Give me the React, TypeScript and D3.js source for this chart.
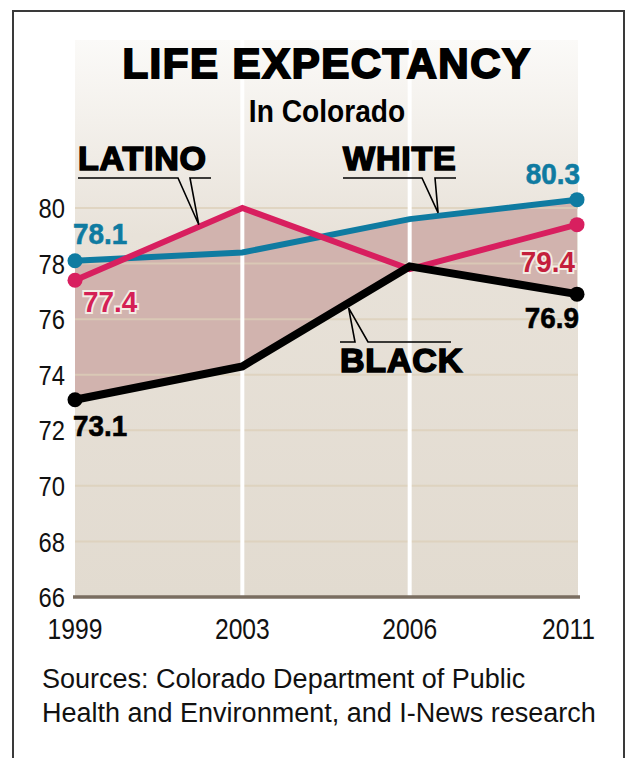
import { useRef, useEffect } from 'react';
import * as d3 from 'd3';

// data
const years = ['1999', '2003', '2006', '2011'];
const white = [78.1, 78.4, 79.6, 80.3];
const latino = [77.4, 80.0, 77.8, 79.4];
const black = [73.1, 74.3, 77.9, 76.9];
const yTicks = [66, 68, 70, 72, 74, 76, 78, 80];

const W = 628;
const H = 758;
const SANS = "'Liberation Sans', Arial, sans-serif";
const NARROW_X = 0.85; // squeeze Liberation Sans to look like a condensed face

const App = () => {
    const ref = useRef<SVGSVGElement>(null);

    useEffect(() => {
        const svg = d3.select(ref.current);
        svg.selectAll('*').remove();

        const x = d3.scalePoint().domain(years).range([75, 577]);
        const y = d3.scaleLinear().domain([66, 80]).range([597, 208]);
        const left = 75, right = 578, top = 40;

        const defs = svg.append('defs');
        const grad = defs.append('linearGradient')
            .attr('id', 'bg')
            .attr('gradientUnits', 'userSpaceOnUse')
            .attr('x1', 0).attr('x2', 0).attr('y1', top).attr('y2', y(66));
        grad.append('stop').attr('offset', '0%').attr('stop-color', '#fbfaf8');
        grad.append('stop').attr('offset', '35%').attr('stop-color', '#e8e2d9');
        grad.append('stop').attr('offset', '100%').attr('stop-color', '#e2dbd0');

        // frame
        svg.append('path')
            .attr('d', `M13,${H} V11 H624 V${H}`)
            .attr('fill', 'none')
            .attr('stroke', '#3a3a3a')
            .attr('stroke-width', 2);

        svg.append('rect')
            .attr('x', left).attr('y', top)
            .attr('width', right - left).attr('height', y(66) - top)
            .attr('fill', 'url(#bg)');

        // shaded band between highest and lowest line
        const all = [white, latino, black];
        const band: { x: number; hi: number; lo: number }[] = [];
        for (let i = 0; i < years.length - 1; i++) {
            const ts = [0];
            for (let a = 0; a < all.length; a++) {
                for (let b = a + 1; b < all.length; b++) {
                    const d0 = all[a][i] - all[b][i];
                    const d1 = all[a][i + 1] - all[b][i + 1];
                    if (d0 * d1 < 0) ts.push(d0 / (d0 - d1));
                }
            }
            if (i === years.length - 2) ts.push(1);
            ts.sort((p, q) => p - q).forEach(t => {
                const vals = all.map(s => s[i] + t * (s[i + 1] - s[i]));
                const x0 = x(years[i])!, x1 = x(years[i + 1])!;
                band.push({ x: x0 + t * (x1 - x0), hi: d3.max(vals)!, lo: d3.min(vals)! });
            });
        }
        svg.append('path')
            .attr('d', d3.area<any>().x(d => d.x).y0(d => y(d.lo)).y1(d => y(d.hi))(band))
            .attr('fill', '#d1b3ae');

        // gridlines
        svg.append('g').selectAll('line')
            .data(yTicks.filter(t => t > 66))
            .enter().append('line')
            .attr('x1', left).attr('x2', right)
            .attr('y1', d => y(d)).attr('y2', d => y(d))
            .attr('stroke', '#dccfb8')
            .attr('stroke-opacity', 0.75)
            .attr('stroke-width', 2);

        // white year separators
        svg.append('g').selectAll('line')
            .data(years.slice(1, -1))
            .enter().append('line')
            .attr('x1', d => x(d)!).attr('x2', d => x(d)!)
            .attr('y1', top).attr('y2', y(66))
            .attr('stroke', '#ffffff')
            .attr('stroke-width', 4);

        // baseline
        svg.append('line')
            .attr('x1', left - 2).attr('x2', right + 2)
            .attr('y1', y(66)).attr('y2', y(66))
            .attr('stroke', '#7a6e61')
            .attr('stroke-width', 3.5);

        // y axis labels
        svg.append('g').selectAll('text')
            .data(yTicks)
            .enter().append('text')
            .attr('transform', d => `translate(65,${y(d)}) scale(${NARROW_X},1)`)
            .attr('dy', '0.36em')
            .attr('text-anchor', 'end')
            .style('font-family', SANS)
            .style('font-size', '28px')
            .attr('fill', '#111')
            .text(d => d);

        // x axis labels (last one kept inside the frame)
        svg.append('g').selectAll('text')
            .data(years)
            .enter().append('text')
            .attr('transform', (d, i) => i === years.length - 1
                ? `translate(${right + 17},639) scale(${NARROW_X},1)`
                : `translate(${x(d)},639) scale(${NARROW_X},1)`)
            .attr('text-anchor', (_, i) => i === years.length - 1 ? 'end' : 'middle')
            .style('font-family', SANS)
            .style('font-size', '29px')
            .attr('fill', '#111')
            .text(d => d);

        // lines
        const seriesList = [
            { vals: white, color: '#0f7ba1', width: 6 },
            { vals: latino, color: '#d81f5f', width: 6 },
            { vals: black, color: '#000000', width: 8 },
        ];
        const line = d3.line<number>().x((_, i) => x(years[i])!).y(d => y(d));
        seriesList.forEach(s => {
            svg.append('path')
                .attr('d', line(s.vals))
                .attr('fill', 'none')
                .attr('stroke', s.color)
                .attr('stroke-width', s.width)
                .attr('stroke-linejoin', 'miter');
            [0, years.length - 1].forEach(i => {
                svg.append('circle')
                    .attr('cx', x(years[i])!)
                    .attr('cy', y(s.vals[i]))
                    .attr('r', 7.5)
                    .attr('fill', s.color);
            });
        });

        // value labels
        const last = years.length - 1;
        const valueLabels = [
            { v: white[0], i: 0, dx: -2, dy: -17, anchor: 'start', color: '#0f7ba1', halo: false },
            { v: latino[0], i: 0, dx: 8, dy: 32, anchor: 'start', color: '#d42055', halo: true },
            { v: black[0], i: 0, dx: -2, dy: 36, anchor: 'start', color: '#000', halo: false },
            { v: white[last], i: last, dx: 3, dy: -16, anchor: 'end', color: '#0f7ba1', halo: false },
            { v: latino[last], i: last, dx: -2, dy: 47, anchor: 'end', color: '#c41f3c', halo: true },
            { v: black[last], i: last, dx: 2, dy: 34, anchor: 'end', color: '#000', halo: false },
        ];
        svg.append('g').selectAll('text')
            .data(valueLabels)
            .enter().append('text')
            .attr('transform', d => `translate(${x(years[d.i])! + d.dx},${y(d.v) + d.dy}) scale(0.93,1)`)
            .attr('text-anchor', d => d.anchor)
            .style('font-family', SANS)
            .style('font-weight', 'bold')
            .style('font-size', '30px')
            .style('paint-order', 'stroke')
            .attr('stroke', d => d.halo ? '#f3ece4' : d.color)
            .attr('stroke-width', d => d.halo ? 4 : 0.6)
            .attr('fill', d => d.color)
            .text(d => d.v.toFixed(1));

        // series name callouts
        const callouts = [
            { name: 'LATINO', s: latino, seg: 0, t: 0.74, tx: 78, ty: 170, rule: 178, rx: [78, 211], gap: [178, 190], tipDy: -2 },
            { name: 'WHITE', s: white, seg: 2, t: 0.17, tx: 343, ty: 170, rule: 178, rx: [343, 456], gap: [422, 435], tipDy: -3 },
            { name: 'BLACK', s: black, seg: 1, t: 0.635, tx: 340, ty: 372, rule: 342, rx: [340, 451], gap: [355, 368], tipDy: 5 },
        ];
        callouts.forEach(c => {
            const x0 = x(years[c.seg])!, x1 = x(years[c.seg + 1])!;
            const tipX = x0 + c.t * (x1 - x0);
            const tipY = y(c.s[c.seg] + c.t * (c.s[c.seg + 1] - c.s[c.seg])) + c.tipDy;
            svg.append('path')
                .attr('d', `M${c.rx[0]},${c.rule} H${c.gap[0]} L${tipX},${tipY} L${c.gap[1]},${c.rule} H${c.rx[1]}`)
                .attr('fill', 'none')
                .attr('stroke', '#000')
                .attr('stroke-width', 1.6);
            svg.append('text')
                .attr('x', c.tx)
                .attr('y', c.ty)
                .style('font-family', SANS)
                .style('font-weight', 'bold')
                .style('font-size', '34px')
                .style('letter-spacing', '0.8px')
                .attr('stroke', '#000')
                .attr('stroke-width', 1.6)
                .text(c.name);
        });

        // titles
        svg.append('text')
            .attr('x', 327)
            .attr('y', 78)
            .attr('text-anchor', 'middle')
            .style('font-family', SANS)
            .style('font-weight', 'bold')
            .style('font-size', '42px')
            .style('letter-spacing', '1.5px')
            .attr('stroke', '#000')
            .attr('stroke-width', 2)
            .text('LIFE EXPECTANCY');

        svg.append('text')
            .attr('transform', `translate(327,122) scale(0.88,1)`)
            .attr('text-anchor', 'middle')
            .style('font-family', SANS)
            .style('font-weight', 'bold')
            .style('font-size', '32px')
            .text('In Colorado');

        // source note
        svg.append('text')
            .attr('x', 42)
            .attr('y', 688)
            .style('font-family', SANS)
            .style('font-size', '27px')
            .attr('fill', '#111')
            .text('Sources: Colorado Department of Public');
        svg.append('text')
            .attr('x', 42)
            .attr('y', 722)
            .style('font-family', SANS)
            .style('font-size', '27px')
            .attr('fill', '#111')
            .text('Health and Environment, and I-News research');
    }, []);

    return (
        <svg
            ref={ref}
            width={W}
            height={H}
            style={{ position: 'absolute', left: 0, top: 0, background: '#fff' }}
        ></svg>
    );
};

export default App;
